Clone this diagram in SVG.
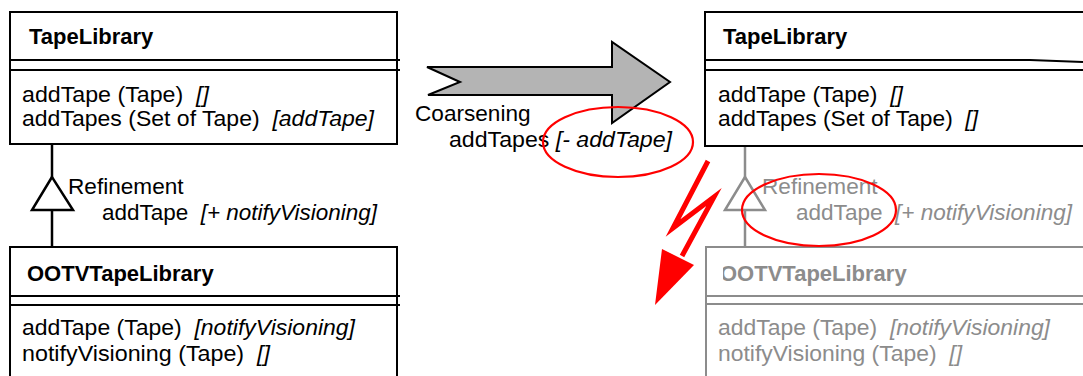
<svg xmlns="http://www.w3.org/2000/svg" width="1083" height="376" viewBox="0 0 1083 376">
<style>
text{font-family:"Liberation Sans",Arial,sans-serif;font-size:22.6px;fill:#000;white-space:pre}
.b{font-weight:bold;font-size:22px}
.i{font-style:italic}
.g{fill:#8c8c8c}
.box{fill:#fff;stroke:#000;stroke-width:2}
.gbox{fill:#fff;stroke:#8c8c8c;stroke-width:2}
.ln{stroke:#000;stroke-width:2;fill:none}
.gln{stroke:#8c8c8c;stroke-width:2;fill:none}
.gen{stroke:#000;stroke-width:2.5;fill:#fff}
.ggen{stroke:#8c8c8c;stroke-width:2.5;fill:#fff}
.red{stroke:#ff0000;stroke-width:2.2;fill:none}
</style>
<defs>
<clipPath id="clipR"><rect x="723" y="240" width="360" height="140"/></clipPath>
</defs>
<rect width="1083" height="376" fill="#fff"/>

<g id="left-tapelibrary">
<rect class="box" x="10" y="12" width="387" height="132"/>
<line class="ln" x1="10" y1="60" x2="400" y2="60"/>
<line class="ln" x1="10" y1="70" x2="400" y2="70"/>
<text class="b" x="29" y="44">TapeLibrary</text>
<text x="22" y="102" textLength="187" lengthAdjust="spacingAndGlyphs">addTape (Tape)  <tspan class="i">[]</tspan></text>
<text x="22" y="126" textLength="352" lengthAdjust="spacingAndGlyphs">addTapes (Set of Tape)  <tspan class="i">[addTape]</tspan></text>
</g>

<g id="left-ootv">
<rect class="box" x="10" y="247" width="387" height="140"/>
<line class="ln" x1="10" y1="296" x2="400" y2="296"/>
<line class="ln" x1="10" y1="305" x2="400" y2="305"/>
<text class="b" x="27" y="281">OOTVTapeLibrary</text>
<text x="22" y="335" textLength="333" lengthAdjust="spacingAndGlyphs">addTape (Tape)  <tspan class="i">[notifyVisioning]</tspan></text>
<text x="22" y="361" textLength="248" lengthAdjust="spacingAndGlyphs">notifyVisioning (Tape)  <tspan class="i">[]</tspan></text>
</g>

<g id="right-tapelibrary">
<rect class="box" x="705" y="12" width="400" height="134"/>
<polyline class="ln" points="705,60 1030,60 1083,62"/>
<line class="ln" x1="705" y1="70" x2="1083" y2="70"/>
<text class="b" x="723" y="44">TapeLibrary</text>
<text x="718" y="102" textLength="185" lengthAdjust="spacingAndGlyphs">addTape (Tape)  <tspan class="i">[]</tspan></text>
<text x="718" y="126" textLength="260" lengthAdjust="spacingAndGlyphs">addTapes (Set of Tape)  <tspan class="i">[]</tspan></text>
</g>

<g id="right-ootv">
<rect class="gbox" x="706" y="247" width="400" height="140"/>
<line class="gln" x1="706" y1="296" x2="1083" y2="296"/>
<line class="gln" x1="706" y1="304" x2="1083" y2="304"/>
<text class="b g" x="720" y="281" clip-path="url(#clipR)">OOTVTapeLibrary</text>
<text class="g" x="718" y="335" textLength="332" lengthAdjust="spacingAndGlyphs">addTape (Tape)  <tspan class="i">[notifyVisioning]</tspan></text>
<text class="g" x="718" y="361" textLength="244" lengthAdjust="spacingAndGlyphs">notifyVisioning (Tape)  <tspan class="i">[]</tspan></text>
</g>

<g id="connectors">
<line class="gen" x1="52" y1="145" x2="52" y2="178"/>
<line class="gen" x1="52" y1="210" x2="52" y2="247"/>
<polygon class="gen" points="52,177 32,210 73,210"/>
<line class="ggen" x1="745" y1="147" x2="745" y2="178"/>
<line class="ggen" x1="745" y1="210" x2="745" y2="247"/>
<polygon class="ggen" points="745,177 725,210 765,210"/>
<polygon points="427,67 612,67 612,42 670,82 612,123 612,95 428,95 460,82" fill="#b4b4b4" stroke="#000" stroke-width="2" stroke-linejoin="miter"/>
<polyline points="708,161 673,228 714,197 682,256" fill="none" stroke="#ff0000" stroke-width="5" stroke-linejoin="miter" stroke-miterlimit="10"/>
<polygon points="662,249 694,265 655,305" fill="#ff0000"/>
</g>

<g id="labels">
<text x="68" y="194">Refinement</text>
<text x="102" y="220" textLength="275" lengthAdjust="spacingAndGlyphs">addTape  <tspan class="i">[+ notifyVisioning]</tspan></text>
<text x="415" y="121">Coarsening</text>
<text x="449" y="147" textLength="223" lengthAdjust="spacingAndGlyphs">addTapes <tspan class="i">[- addTape]</tspan></text>
<text class="g" x="762" y="194">Refinement</text>
<text class="g" x="796" y="220" textLength="276" lengthAdjust="spacingAndGlyphs">addTape  <tspan class="i">[+ notifyVisioning]</tspan></text>
</g>

<g id="annotations">
<ellipse class="red" cx="618" cy="142" rx="75" ry="35"/>
<ellipse class="red" cx="819" cy="210" rx="77" ry="36"/>
</g>
</svg>
